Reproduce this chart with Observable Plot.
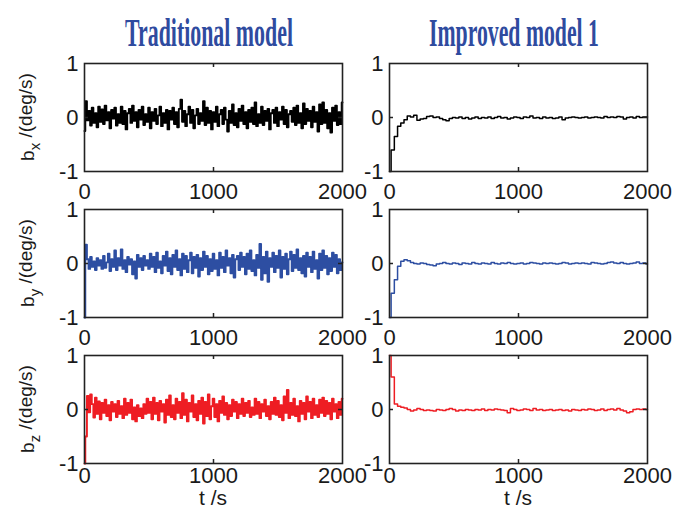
<!DOCTYPE html>
<html><head><meta charset="utf-8">
<script src="https://cdn.jsdelivr.net/npm/d3@7"></script>
<script src="https://cdn.jsdelivr.net/npm/@observablehq/plot@0.6"></script>
<style>
html,body{margin:0;padding:0;background:#fff;}
#chart{position:relative;width:673px;height:508px;overflow:hidden;background:#fff;}
#chart svg.panel{position:absolute;}
#overlay{position:absolute;left:0;top:0;pointer-events:none;}
</style></head><body><div id="chart"></div>
<script>
// ---- labels / ticks ----
const columnTitles = ["Traditional model", "Improved model 1"];
const rowSubscripts = ["x", "y", "z"];
const xLabel = "t /s";
const xTicks = [0, 1000, 2000];
const yTicks = [-1, 0, 1];
const tradStep = 12.5;   // seconds between samples, traditional model
const impStep = 25;      // seconds between samples, improved model

// ---- traditional model (t = 0 .. 2000 s, every 12.5 s) ----
const bxTraditional = [
 -0.25,0.30,-0.05,0.12,-0.15,0.18,-0.10,0.08,-0.18,0.20,
 -0.08,0.15,-0.12,0.22,-0.05,0.10,-0.20,0.14,-0.02,0.18,
 -0.15,0.06,-0.10,0.20,-0.12,0.12,-0.22,0.08,0.16,-0.10,
 0.22,-0.06,0.10,-0.18,0.14,-0.04,0.20,-0.14,0.06,-0.08,
 0.18,-0.20,0.10,-0.06,0.16,-0.12,0.04,0.20,-0.16,0.08,
 -0.10,0.14,-0.22,0.12,-0.04,0.18,-0.12,0.10,-0.18,0.16,
 0.33,-0.08,0.12,-0.16,0.06,0.20,-0.10,0.14,-0.20,0.04,
 0.16,-0.12,0.08,-0.06,0.30,-0.14,0.18,-0.10,0.12,-0.22,
 0.10,-0.08,0.20,-0.16,0.06,0.14,-0.12,0.18,-0.04,-0.26,
 0.12,-0.10,0.24,-0.14,0.08,-0.18,0.16,-0.06,0.22,-0.12,
 0.10,-0.20,0.14,-0.08,0.18,-0.12,0.28,-0.16,0.06,-0.10,
 0.20,-0.14,0.12,-0.06,0.16,-0.22,0.08,0.14,-0.10,0.18,
 -0.16,0.10,-0.04,0.20,-0.12,0.14,-0.18,0.06,0.12,-0.08,
 0.18,-0.14,0.22,-0.10,0.08,-0.20,0.26,-0.12,0.16,-0.06,
 0.12,-0.18,0.20,-0.08,0.10,-0.26,0.24,-0.12,0.28,-0.10,
 0.14,-0.20,0.08,-0.28,0.18,-0.06,0.22,-0.14,0.10,-0.12,
 0.28
];
const byTraditional = [
 -1.00,0.35,0.08,-0.10,0.12,-0.06,0.04,-0.12,0.10,-0.04,
 0.06,-0.10,0.14,-0.08,0.02,0.18,-0.14,0.08,-0.06,0.24,
 -0.12,0.10,-0.04,0.26,-0.10,0.06,-0.16,0.12,-0.02,0.08,
 -0.20,0.04,-0.28,0.16,-0.06,0.10,-0.12,0.14,-0.04,0.06,
 -0.10,0.18,-0.06,0.12,-0.16,0.20,-0.08,0.04,-0.18,0.14,
 -0.04,0.22,-0.14,0.10,-0.20,0.16,-0.06,0.24,-0.12,0.08,
 -0.22,0.18,-0.10,0.14,-0.16,0.06,0.20,-0.18,0.12,-0.08,
 0.16,-0.24,0.10,-0.12,0.22,-0.06,0.14,-0.20,0.08,-0.14,
 0.18,-0.10,0.06,-0.22,0.20,-0.08,0.12,-0.16,0.24,-0.04,
 0.10,-0.18,0.16,-0.26,0.08,0.14,-0.12,0.20,-0.06,0.12,
 -0.20,0.18,-0.10,0.24,-0.14,0.06,-0.22,0.16,-0.08,0.36,
 -0.30,0.12,-0.18,0.22,-0.34,0.10,-0.06,0.20,-0.16,0.14,
 -0.08,0.24,-0.26,0.12,-0.10,0.18,-0.20,0.08,0.22,-0.14,
 0.16,-0.08,0.26,-0.12,0.10,-0.18,0.14,-0.24,0.20,-0.06,
 0.12,-0.16,0.22,-0.10,0.06,-0.28,0.18,-0.12,0.24,-0.08,
 0.14,-0.20,0.10,-0.14,0.20,-0.06,0.16,-0.18,0.08,-0.12,
 0.02
];
const bzTraditional = [
 -1.00,-0.50,0.25,-0.05,0.28,0.10,-0.15,0.22,-0.08,0.15,
 -0.18,0.12,-0.06,0.18,-0.12,0.08,-0.20,0.14,-0.04,0.10,
 -0.14,0.16,-0.08,0.06,-0.16,0.20,-0.10,0.12,-0.06,0.18,
 -0.18,0.04,-0.22,0.08,-0.12,0.02,-0.16,0.10,-0.08,0.20,
 -0.06,0.14,-0.18,0.22,-0.08,0.12,-0.20,0.16,-0.04,0.10,
 -0.24,0.18,-0.10,0.26,-0.14,0.08,-0.18,0.20,-0.06,0.14,
 -0.16,0.30,-0.10,0.18,-0.22,0.12,-0.04,0.26,-0.14,0.10,
 -0.20,0.16,-0.08,0.22,-0.26,0.14,-0.12,0.28,-0.18,0.06,
 0.20,-0.14,0.10,-0.22,0.16,-0.06,0.24,-0.10,0.12,-0.18,
 0.08,-0.12,0.18,-0.04,0.14,-0.16,0.10,-0.08,0.20,-0.12,
 0.12,-0.06,0.16,-0.14,0.04,-0.10,0.20,-0.08,0.14,-0.16,
 0.10,-0.04,0.18,-0.12,0.06,-0.18,0.14,-0.08,0.22,-0.10,
 0.16,-0.14,0.08,-0.20,0.24,-0.06,0.36,-0.16,0.12,-0.10,
 0.20,-0.12,0.06,-0.22,0.16,-0.08,0.12,-0.18,0.24,-0.04,
 0.14,-0.16,0.20,-0.10,0.08,-0.14,0.18,-0.06,0.22,-0.12,
 0.16,-0.08,0.12,-0.18,0.20,-0.04,0.10,-0.16,0.14,-0.10,
 0.20
];

// ---- improved model 1 (t = 0 .. 2000 s, every 25 s) ----
const bxImproved = [
 -1.00,-0.60,-0.35,-0.16,-0.10,-0.04,0.03,0.01,0.04,-0.05,
 -0.03,-0.02,0.02,0.03,0.00,0.01,-0.02,-0.04,-0.06,-0.02,
 0.00,-0.01,0.01,-0.02,0.00,-0.03,-0.01,0.01,-0.02,0.00,
 -0.01,0.01,-0.02,0.00,0.02,-0.01,0.00,-0.03,-0.01,0.01,
 0.00,-0.02,0.01,0.00,0.03,-0.01,0.00,-0.02,0.01,-0.01,
 0.00,-0.02,-0.01,0.01,-0.04,-0.01,0.00,0.01,0.00,-0.01,
 0.00,0.01,-0.01,0.00,0.01,0.00,-0.01,0.02,0.00,0.01,
 0.00,0.02,0.01,-0.03,0.00,0.01,-0.01,0.02,0.00,0.01,
 0.01
];
const byImproved = [
 -1.00,-0.55,-0.30,-0.05,0.04,0.07,0.05,0.02,0.00,-0.01,
 0.01,0.00,-0.02,-0.03,-0.04,-0.01,0.00,0.02,0.00,-0.01,
 0.01,0.00,-0.02,0.01,0.00,-0.01,0.02,0.00,-0.01,0.01,
 0.00,-0.01,0.02,0.00,-0.01,0.01,0.00,0.02,0.00,-0.01,
 0.00,0.01,-0.01,0.00,0.02,0.01,0.00,-0.01,0.01,0.00,
 0.01,0.00,-0.01,0.00,0.02,0.01,-0.01,0.00,0.01,0.00,
 0.01,0.00,-0.01,0.02,0.01,0.00,-0.01,0.00,0.02,0.03,
 0.01,0.00,0.02,0.00,-0.01,0.00,0.01,0.03,0.00,0.01,
 -0.01
];
const bzImproved = [
 1.00,0.60,0.10,0.06,0.04,0.03,0.00,-0.03,-0.01,0.02,
 0.00,-0.02,-0.01,-0.02,-0.03,0.00,-0.01,-0.02,0.00,0.02,
 0.00,-0.03,-0.01,-0.02,0.00,-0.01,-0.02,0.00,-0.01,0.01,
 -0.02,0.00,-0.01,0.01,0.00,-0.01,-0.02,-0.06,0.02,0.00,
 -0.02,-0.01,0.01,0.00,-0.02,0.02,-0.01,0.00,-0.02,-0.01,
 0.00,-0.02,-0.01,0.00,-0.02,-0.01,-0.03,0.00,-0.01,-0.02,
 0.00,-0.01,0.01,0.00,-0.02,-0.01,0.01,-0.02,0.00,0.01,
 -0.01,0.02,-0.01,-0.03,-0.06,-0.04,0.00,0.01,0.00,0.01,
 0.00
];

const rowColors = ["#000000", "#2d4ea2", "#ee1d23"];
const traditionalSeries = [bxTraditional, byTraditional, bzTraditional];
const improvedSeries = [bxImproved, byImproved, bzImproved];

// ---- layout ----
const FW = 258, FH = 108;
const colX = [84, 389];
const rowY = [63, 209, 355];
const rowPad = [12, 12, 4];
const mL = 45, mR = 40, mT = 15, mB = 40;
const axisFont = "'Liberation Sans', Arial, sans-serif";

const chart = document.getElementById("chart");

function panel(values, step, color, pad, width) {
  const data = values.map((v, i) => ({t: i * step, v}));
  const p = Plot.plot({
    width: mL + FW + mR, height: mT + FH + mB,
    marginLeft: mL, marginRight: mR, marginTop: mT, marginBottom: mB,
    style: {background: "transparent", overflow: "visible", fontFamily: axisFont, fontSize: "22px", color: "#1a1a1a"},
    x: {domain: [0, 2000]},
    y: {domain: [-1, 1]},
    marks: [
      Plot.lineY(data, {x: "t", y: "v", stroke: color, strokeWidth: width, curve: "step"}),
      Plot.tickX([1000], {stroke: "#222", strokeWidth: 1.5, insetBottom: FH - 4}),
      Plot.tickX([1000], {stroke: "#222", strokeWidth: 1.5, insetTop: FH - 4}),
      Plot.tickY([0], {stroke: "#222", strokeWidth: 1.5, insetRight: FW - 4}),
      Plot.tickY([0], {stroke: "#222", strokeWidth: 1.5, insetLeft: FW - 4}),
      Plot.frame({stroke: "#222", strokeWidth: 1.6}),
      Plot.axisX({ticks: xTicks, tickSize: 0, tickPadding: pad, tickFormat: d => String(d), label: null, fontSize: 22}),
      Plot.axisY({ticks: yTicks, tickSize: 0, tickPadding: 6, tickFormat: d => String(d), label: null, fontSize: 22})
    ]
  });
  p.classList.add("panel");
  return p;
}

for (let r = 0; r < 3; r++) {
  const series = [[traditionalSeries[r], tradStep, 1.9], [improvedSeries[r], impStep, 1.5]];
  for (let c = 0; c < 2; c++) {
    const p = panel(series[c][0], series[c][1], rowColors[r], rowPad[r], series[c][2]);
    p.style.left = (colX[c] - mL) + "px";
    p.style.top = (rowY[r] - mT) + "px";
    chart.appendChild(p);
  }
}

// ---- text overlay: titles, y labels, x labels ----
const svg = d3.select(chart).append("svg").attr("id", "overlay").attr("width", 673).attr("height", 508);
const titleLen = [168, 170];
columnTitles.forEach((t, c) => {
  const g = svg.append("g");
  const txt = g.append("text")
    .attr("x", 0).attr("y", 0)
    .attr("text-anchor", "middle")
    .attr("font-family", "'Liberation Serif', 'Times New Roman', serif")
    .attr("font-weight", "bold").attr("font-size", 41)
    .attr("fill", "#2f4b9f")
    .text(t);
  const natural = txt.node().getComputedTextLength() || titleLen[c];
  g.attr("transform", `translate(${colX[c] + FW / 2 - 4},46) scale(${titleLen[c] / natural},1)`);
});
rowSubscripts.forEach((s, r) => {
  const cy = rowY[r] + FH / 2;
  const txt = svg.append("text")
    .attr("transform", `translate(34,${cy}) rotate(-90)`)
    .attr("text-anchor", "middle")
    .attr("font-family", axisFont).attr("font-size", 19).attr("fill", "#1a1a1a");
  txt.append("tspan").text("b");
  txt.append("tspan").attr("dy", "0.38em").attr("font-size", 15).text(s);
  txt.append("tspan").attr("dy", "-0.38em").text(" /(deg/s)");
});
colX.forEach(x0 => {
  svg.append("text")
    .attr("x", x0 + FW / 2).attr("y", 505)
    .attr("text-anchor", "middle")
    .attr("font-family", axisFont).attr("font-size", 21).attr("fill", "#1a1a1a")
    .text(xLabel);
});
</script></body></html>
